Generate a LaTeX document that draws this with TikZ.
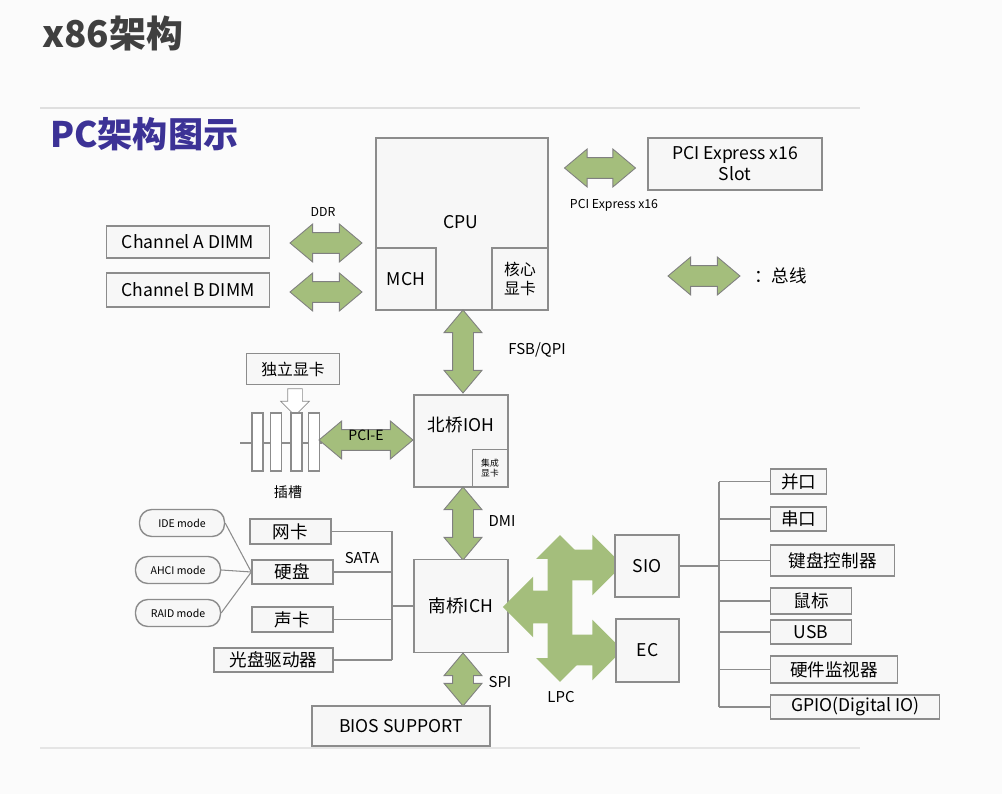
\documentclass[tikz,border=0pt]{standalone}
\usepackage{fontspec}
\setmainfont{Noto Sans CJK SC}
\usetikzlibrary{shapes.arrows,shapes.misc,positioning}
\definecolor{busgreen}{RGB}{164,190,124}
\definecolor{boxline}{RGB}{140,140,140}
\definecolor{boxfill}{RGB}{247,247,247}
\definecolor{titleblue}{RGB}{60,50,150}
\definecolor{bg}{RGB}{251,251,251}
\begin{document}
\begin{tikzpicture}[x=0.02cm,y=-0.02cm]
  \tikzset{blk/.style = {draw=boxline,fill=boxfill,line width=0.8pt,inner sep=0pt,font=\fontsize{10}{12}\selectfont,align=center}}
  \tikzset{mode/.style = {blk,rounded corners=7pt,minimum width=1.7cm,minimum height=0.54cm,font=\fontsize{6}{7}\selectfont}}
  \tikzset{bus/.style = {shape=double arrow,draw=gray,fill=busgreen,line width=0.5pt,inner xsep=0pt,inner ysep=0.2cm,text height=0pt,text depth=0pt,double arrow head extend=0.17cm,double arrow tip angle=80,font=\fontsize{8}{9}\selectfont}}
  \tikzset{lpc/.style = {fill=busgreen,inner xsep=0pt,text height=0pt,text depth=0pt}}
  \tikzset{lbl/.style = {font=\fontsize{8.5}{10}\selectfont}}
  \tikzset{wire/.style = {draw=boxline,line width=0.6pt}}

  \fill[bg] (0,0) rectangle (1002,794);
  \useasboundingbox (0,0) rectangle (1002,794);
  \draw[gray!25,line width=1pt] (40,108) -- (860,108);
  \draw[gray!20,line width=1pt] (40,748) -- (860,748);

  \node[anchor=west,font=\fontsize{21}{24}\bfseries\selectfont,text=black!75] (title) at (36,34) {x86架构};
  \node[anchor=west,font=\fontsize{20}{24}\bfseries\selectfont,text=titleblue] (sub) at (44,134) {PC架构图示};

  % CPU
  \node[blk,minimum width=3.44cm,minimum height=3.44cm] (CPU) at (462,224) {};
  \node[font=\fontsize{10}{12}\selectfont] (CPUt) at (461,222) {CPU};
  \node[blk,minimum width=1.2cm,minimum height=1.24cm] (MCH) at (406,279) {MCH};
  \node[blk,minimum width=1.12cm,minimum height=1.24cm,font=\fontsize{9}{11}\selectfont] (IGPU) at (520,279) {核心\\显卡};
  \node[blk,minimum width=3.48cm,minimum height=1.04cm] (SLOT) at (735,164) {PCI Express x16\\Slot};
  \node[bus,minimum height=1.42cm] (PCIX) at (600,168) {};
  \node[font=\fontsize{7}{8}\selectfont] (PCIXt) at (614,205) {PCI Express x16};

  % memory
  \node[blk,minimum width=3.26cm,minimum height=0.64cm] (DIMMA) at (188,242) {Channel A DIMM};
  \node[blk,minimum width=3.26cm,minimum height=0.68cm] (DIMMB) at (188,290) {Channel B DIMM};
  \node[bus,minimum height=1.44cm] (DDRA) at (326,243) {};
  \node[bus,minimum height=1.44cm] (DDRB) at (326,292) {};
  \node[font=\fontsize{7}{8}\selectfont] (DDR) at (323,212) {DDR};

  % legend
  \node[bus,minimum height=1.44cm] (KEY) at (704,276) {};
  \node[anchor=west,font=\fontsize{10}{12}\selectfont] (KEYt) at (748,276) {：总线};

  % north bridge
  \node[bus,minimum height=1.66cm,rotate=90] (FSB) at (463,351.5) {};
  \node[lbl] (FSBt) at (537,350) {FSB/QPI};
  \node[blk,minimum width=1.88cm,minimum height=1.84cm] (NB) at (461,441) {};
  \node[font=\fontsize{10}{12}\selectfont] (NBt) at (461,425) {北桥IOH};
  \node[blk,minimum width=0.7cm,minimum height=0.74cm,font=\fontsize{5}{6}\selectfont] (NBG) at (490,468) {集成\\显卡};

  % graphics card and slots
  \node[blk,minimum width=1.86cm,minimum height=0.62cm,font=\fontsize{9}{11}\selectfont] (GPU) at (293,369) {独立显卡};
  \node[shape=single arrow,draw=boxline,fill=white,rotate=-90,minimum height=0.54cm,inner xsep=0pt,inner ysep=0.14cm,text height=0pt,text depth=0pt,single arrow head extend=0.14cm] (DROP) at (295,398.5) {};
  \draw[wire] (240,443) -- (322,443);
  \foreach \sx/\nm in {257.5/S1,276/S2,296.5/S3,314/S4}
    \node[blk,fill=white,minimum width=0.22cm,minimum height=1.16cm] (\nm) at (\sx,442) {};
  \node[bus,minimum height=1.88cm] (PCIE) at (366,440) {PCI-E};
  \node[font=\fontsize{8}{10}\selectfont] (SLOTt) at (288,492) {插槽};

  % south bridge
  \node[bus,minimum height=1.46cm,rotate=90] (DMI) at (463,523.5) {};
  \node[lbl] (DMIt) at (502,521) {DMI};
  \node[blk,minimum width=1.88cm,minimum height=1.86cm] (SB) at (461,606) {南桥ICH};
  \node[bus,minimum height=1.06cm,rotate=90] (SPI) at (463,679.5) {};
  \node[lbl] (SPIt) at (500,682) {SPI};
  \node[blk,minimum width=3.56cm,minimum height=0.8cm] (BIOS) at (401,726) {BIOS SUPPORT};

  % SATA devices
  \node[blk,minimum width=1.62cm,minimum height=0.5cm] (NIC) at (290.5,531.5) {网卡};
  \node[blk,minimum width=1.62cm,minimum height=0.48cm] (HDD) at (292.5,572) {硬盘};
  \node[blk,minimum width=1.62cm,minimum height=0.5cm] (SND) at (292.5,619.5) {声卡};
  \node[blk,minimum width=2.38cm,minimum height=0.48cm] (ODD) at (273.5,660) {光盘驱动器};
  \coordinate (SATAt) at (392,531);
  \coordinate (SATAb) at (392,660);
  \draw[wire] (SATAt) -- (SATAb);
  \foreach \dev in {NIC,HDD,SND,ODD}
    \draw[wire] (\dev.east) -- (\dev.east -| SATAt);
  \draw[wire] (SB.west) -- (SB.west -| SATAt);
  \node[lbl] (SATA) at (362,558) {SATA};
  \node[mode] (IDE) at (182,523) {IDE mode};
  \node[mode] (AHCI) at (178,570) {AHCI mode};
  \node[mode] (RAID) at (178,613) {RAID mode};
  \foreach \m in {IDE,AHCI,RAID}
    \draw[wire] (\m.east) -- (HDD.west);

  % LPC
  \node[lpc,shape=double arrow,rotate=90,minimum height=2.94cm,inner ysep=0.24cm,double arrow head extend=0.23cm] (LPCv) at (560,608.5) {};
  \node[lpc,shape=single arrow,rotate=180,minimum height=1.0cm,inner ysep=0.32cm,single arrow head extend=0.28cm] (LPCl) at (536,607) {};
  \node[lpc,shape=single arrow,minimum height=1.1cm,inner ysep=0.3cm,single arrow head extend=0.3cm] (LPCs) at (587.5,565) {};
  \node[lpc,shape=single arrow,minimum height=1.1cm,inner ysep=0.3cm,single arrow head extend=0.3cm] (LPCe) at (587.5,650) {};
  \node[lbl] (LPC) at (561,697) {LPC};
  \node[blk,minimum width=1.28cm,minimum height=1.24cm] (SIO) at (647,566) {SIO};
  \node[blk,minimum width=1.26cm,minimum height=1.26cm] (EC) at (647.5,650.5) {EC};

  % SIO devices
  \node[blk,minimum width=1.12cm,minimum height=0.5cm,anchor=west] (PAR) at (770,481.5) {并口};
  \node[blk,minimum width=1.12cm,minimum height=0.48cm,anchor=west] (SER) at (770,519) {串口};
  \node[blk,minimum width=2.48cm,minimum height=0.62cm,anchor=west] (KBC) at (770,560.5) {键盘控制器};
  \node[blk,minimum width=1.62cm,minimum height=0.52cm,anchor=west] (MOUSE) at (770,601) {鼠标};
  \node[blk,minimum width=1.62cm,minimum height=0.48cm,anchor=west] (USB) at (770,632) {USB};
  \node[blk,minimum width=2.54cm,minimum height=0.54cm,anchor=west] (HWM) at (770,669.5) {硬件监视器};
  \node[blk,minimum width=3.38cm,minimum height=0.48cm,anchor=west] (GPIO) at (770,707) {GPIO(Digital IO)};
  \coordinate (IOt) at (719,481.5);
  \coordinate (IOb) at (719,707);
  \draw[wire] (IOt) -- (IOb);
  \draw[wire] (SIO.east) -- (SIO.east -| IOt);
  \foreach \dev in {PAR,SER,KBC,MOUSE,USB,HWM,GPIO}
    \draw[wire] (\dev.west) -- (\dev.west -| IOt);
\end{tikzpicture}
\end{document}
